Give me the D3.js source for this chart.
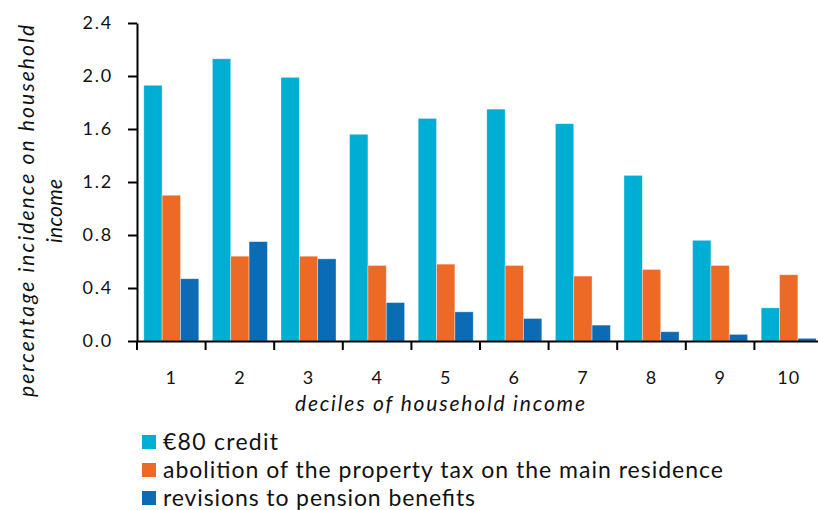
<!DOCTYPE html>
<html>
<head>
<meta charset="utf-8">
<script src="https://cdn.jsdelivr.net/npm/d3@7"></script>
<style>
  html, body { margin: 0; padding: 0; background: #fff; }
  svg { display: block; font-family: Lato, "Open Sans", sans-serif; }
</style>
</head>
<body>
<svg id="chart" width="818" height="510"></svg>
<script>
// Deciles of household income
const deciles = ["1", "2", "3", "4", "5", "6", "7", "8", "9", "10"];

// Percentage incidence on household income, one array per measure
const credit80     = [1.93, 2.13, 1.99, 1.56, 1.68, 1.75, 1.64, 1.25, 0.76, 0.25];
const propertyTax  = [1.10, 0.64, 0.64, 0.57, 0.58, 0.57, 0.49, 0.54, 0.57, 0.50];
const pensionRev   = [0.47, 0.75, 0.62, 0.29, 0.22, 0.17, 0.12, 0.07, 0.05, 0.02];

const seriesNames  = ["€80 credit",
                      "abolition of the property tax on the main residence",
                      "revisions to pension benefits"];
const seriesColors = ["#00aed4", "#ec6a25", "#0b6bb5"];
const yTicks       = [0, 0.4, 0.8, 1.2, 1.6, 2.0, 2.4];

const seriesValues = [credit80, propertyTax, pensionRev];

const svg = d3.select("#chart");

const plot = { left: 137, right: 823, top: 23, bottom: 341 };

// Stretch a text element to a given width, spreading the extra room between letters
function fitWidth(sel, width) {
  sel.attr("textLength", width).attr("lengthAdjust", "spacing");
}

const x0 = d3.scaleBand().domain(deciles).range([plot.left, plot.right]).padding(0);
const x1 = d3.scaleBand().domain(d3.range(seriesNames.length))
  .range([0, x0.bandwidth()]).paddingInner(0).paddingOuter(0.37);
const y = d3.scaleLinear().domain([0, 2.4]).range([plot.bottom, plot.top]);

// Bars
const groups = svg.append("g").selectAll("g")
  .data(deciles)
  .join("g")
  .attr("transform", d => `translate(${x0(d)},0)`);

groups.selectAll("rect")
  .data((d, i) => seriesValues.map((vals, s) => ({ s, v: vals[i] })))
  .join("rect")
  .attr("x", d => x1(d.s))
  .attr("y", d => y(d.v))
  .attr("width", x1.bandwidth())
  .attr("height", d => y(0) - y(d.v))
  .attr("fill", d => seriesColors[d.s])
  .attr("stroke", "#ffffff")
  .attr("stroke-opacity", 0.45)
  .attr("stroke-width", 0.8);

// Y axis
const yAxis = svg.append("g")
  .attr("transform", `translate(${plot.left},0)`)
  .call(d3.axisLeft(y).tickValues(yTicks).tickFormat(d3.format(".1f"))
    .tickSize(9).tickPadding(15).tickSizeOuter(0));
yAxis.select(".domain").attr("stroke", "#000").attr("stroke-width", 2);
yAxis.selectAll(".tick line").attr("stroke", "#000").attr("stroke-width", 2);
yAxis.selectAll("text")
  .attr("font-size", 18).attr("font-family", "Lato, sans-serif")
  .attr("fill", "#111").style("letter-spacing", "1.8px");

// X axis: labels centred in each band, ticks on band boundaries
const xAxis = svg.append("g")
  .attr("transform", `translate(0,${plot.bottom})`)
  .call(d3.axisBottom(x0).tickSize(0).tickPadding(30).tickSizeOuter(0));
xAxis.select(".domain").attr("stroke", "#000").attr("stroke-width", 2);
xAxis.selectAll("text")
  .attr("font-size", 18).attr("font-family", "Lato, sans-serif")
  .attr("fill", "#111").style("letter-spacing", "1px");

const boundaries = deciles.map(d => x0(d)).concat([x0(deciles[deciles.length - 1]) + x0.step()]);
xAxis.append("g").selectAll("line")
  .data(boundaries)
  .join("line")
  .attr("x1", d => d).attr("x2", d => d)
  .attr("y1", 0).attr("y2", 9)
  .attr("stroke", "#000").attr("stroke-width", 2);

// Axis titles
svg.append("text")
  .attr("x", 440).attr("y", 411)
  .attr("text-anchor", "middle")
  .attr("font-size", 21).attr("font-style", "italic")
  .attr("fill", "#111")
  .text("deciles of household income")
  .call(fitWidth, 290);

const yTitle = svg.append("text")
  .attr("transform", "translate(0,211) rotate(-90)")
  .attr("text-anchor", "middle")
  .attr("font-size", 21).attr("font-style", "italic")
  .attr("fill", "#111");
yTitle.append("tspan").attr("x", 0).attr("y", 34)
  .text("percentage incidence on household").call(fitWidth, 372);
yTitle.append("tspan").attr("x", 0).attr("y", 62)
  .text("income").call(fitWidth, 64);

// Legend
const legendWidths = [115, 560, 312];
const legend = svg.append("g").selectAll("g")
  .data(seriesNames)
  .join("g")
  .attr("transform", (d, i) => `translate(142,${435 + i * 28})`);
legend.append("rect")
  .attr("width", 14).attr("height", 14)
  .attr("fill", (d, i) => seriesColors[i]);
legend.append("text")
  .attr("x", 21).attr("y", 14.5)
  .attr("font-size", 23).attr("fill", "#111")
  .text(d => d)
  .each(function (d, i) { d3.select(this).call(fitWidth, legendWidths[i]); });
</script>
</body>
</html>
